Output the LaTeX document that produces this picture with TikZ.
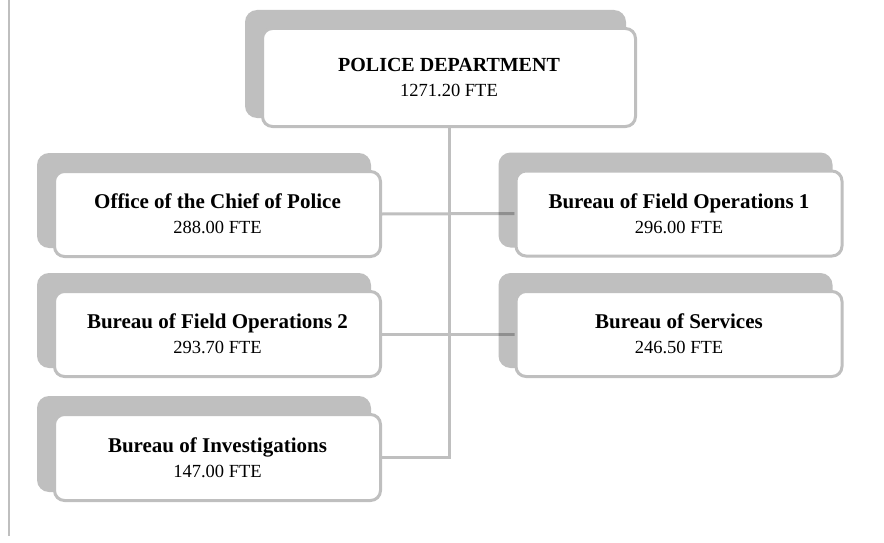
\documentclass[tikz,border=0pt]{standalone}
\usepackage{fontspec}
\setmainfont{Liberation Serif}
\usetikzlibrary{backgrounds,calc}
\definecolor{bordergray}{HTML}{BFBFBF}
\tikzset{
  orgbox/.style={draw=bordergray, line width=3pt, fill=white, rounded corners=10pt,
    minimum width=326pt, minimum height=85pt, align=center, inner sep=0pt,
    font=\fontsize{21}{25}\selectfont},
  topbox/.style={orgbox, minimum width=373pt, minimum height=98pt,
    font=\fontsize{20}{25}\selectfont},
  linkline/.style={draw=bordergray, line width=3pt},
  shadowfill/.style={fill=black, fill opacity=0.25, rounded corners=12pt},
}
\newcommand{\orgtext}[2]{{\bfseries #1}\\{\fontsize{18.5}{25}\selectfont #2~FTE}}
\begin{document}
\begin{tikzpicture}[x=1pt,y=-1pt]
\useasboundingbox (0,0) rectangle (884,543);
% page edge line
\coordinate (edgeA) at (8.5,0);
\coordinate (edgeB) at (8.5,536);
\draw[draw=bordergray, line width=2pt] (edgeA) -- (edgeB);

\node[topbox] (top) at (449,77.5) {\orgtext{POLICE DEPARTMENT}{1271.20}};
\node[orgbox] (off) at (217.5,214) {\orgtext{Office of the Chief of Police}{288.00}};
\node[orgbox] (fo1) at (679,213.5) {\orgtext{Bureau of Field Operations 1}{296.00}};
\node[orgbox] (fo2) at (217.5,334) {\orgtext{Bureau of Field Operations 2}{293.70}};
\node[orgbox] (svc) at (679,334) {\orgtext{Bureau of Services}{246.50}};
\node[orgbox, minimum height=86pt] (inv) at (217.5,457.5) {\orgtext{Bureau of Investigations}{147.00}};

\begin{pgfonlayer}{background}
  \draw[linkline] (top.south) |- (inv.east);
  \draw[linkline] (off.east) -- (fo1.west);
  \draw[linkline] (fo2.east) -- (svc.west);
  \foreach \n in {top,off,fo1,fo2,svc,inv}{
    \path[shadowfill] ($(\n.north west)+(-16,-17)$) rectangle ($(\n.south east)+(-11,-10)$);
  }
\end{pgfonlayer}
\end{tikzpicture}
\end{document}
